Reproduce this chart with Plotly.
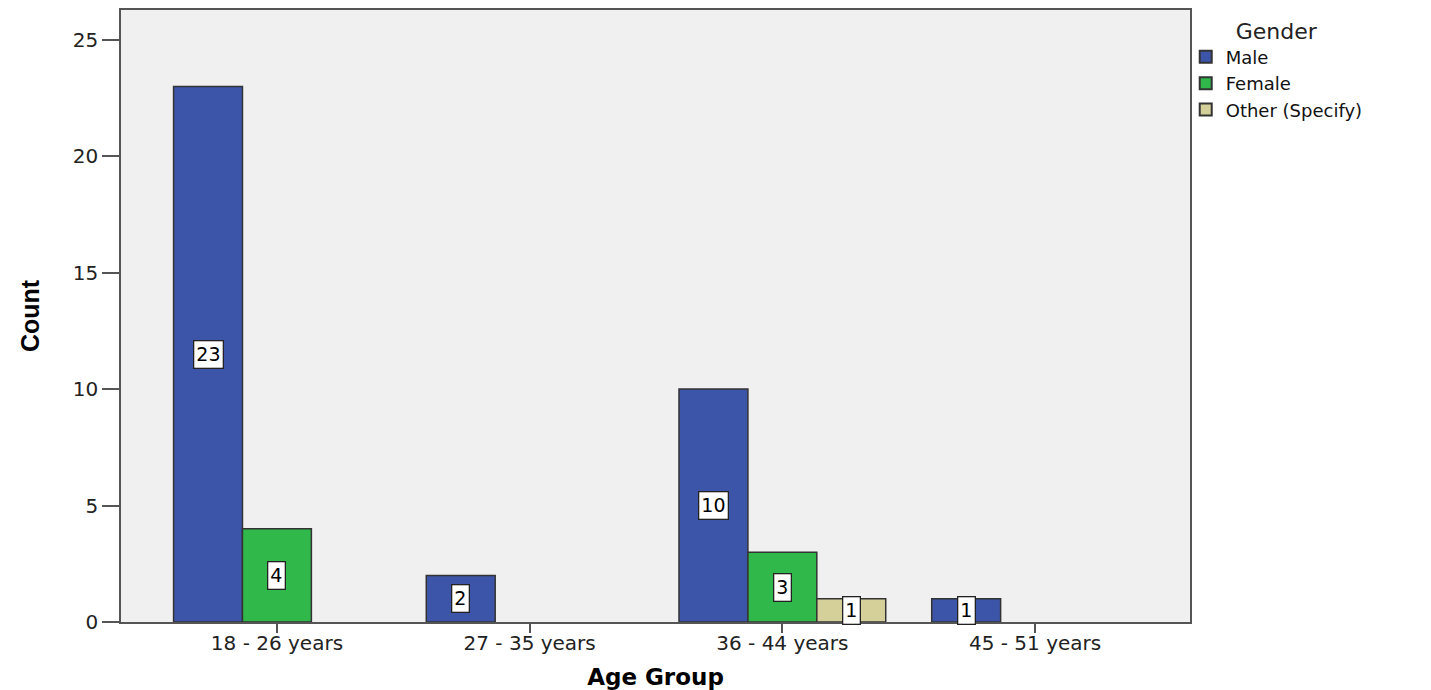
import plotly.graph_objects as go

categories = ["18 - 26 years", "27 - 35 years", "36 - 44 years", "45 - 51 years"]
male = [23, 2, 10, 1]
female = [4, None, 3, None]
other = [None, None, 1, None]
series_names = ["Male", "Female", "Other (Specify)"]
colors = ["#3d55a8", "#30b84a", "#d5d09a"]
y_ticks = [0, 5, 10, 15, 20, 25]

FONT = "DejaVu Sans, Liberation Sans, Arial"

series = [male, female, other]
fig = go.Figure()
for name, vals, col in zip(series_names, series, colors):
    fig.add_trace(go.Bar(
        x=categories, y=vals, name=name,
        marker=dict(color=col, line=dict(color="#333333", width=1.5)),
        hoverinfo="x+y+name",
    ))

bargap = 0.182
n = len(series)
bw = (1 - bargap) / n
for si, vals in enumerate(series):
    off = (si - (n - 1) / 2) * bw
    for ci, v in enumerate(vals):
        if v is None:
            continue
        fig.add_annotation(
            x=ci + off, y=v / 2, xref="x", yref="y",
            text=str(v), showarrow=False,
            font=dict(family=FONT, size=19, color="black"),
            bgcolor="white", bordercolor="#222222", borderwidth=1.3, borderpad=2,
        )

fig.update_layout(
    width=1423, height=682,
    barmode="group", bargap=bargap, bargroupgap=0,
    paper_bgcolor="white", plot_bgcolor="#f0f0f0",
    margin=dict(l=113, r=241, t=0, b=68),
    font=dict(family=FONT, size=18, color="#222222"),
    legend=dict(
        x=0.996, y=1.0, xanchor="left", yanchor="top",
        title=dict(text="Gender", side="top center", font=dict(size=22, color="#222222")),
        font=dict(size=18, color="#111111"),
        itemsizing="constant", tracegroupgap=0,
        bgcolor="rgba(0,0,0,0)",
    ),
    showlegend=True,
)
fig.update_xaxes(
    type="category", range=[-0.617, 3.613],
    showgrid=False, showline=True, linecolor="#555555", linewidth=1.5, mirror=True,
    ticks="outside", ticklen=9, tickcolor="#555555", tickwidth=2,
    ticklabelstandoff=-7,
    tickfont=dict(family=FONT, size=20, color="#222222"),
    title=dict(text="<b>Age Group</b>",
               font=dict(family=FONT, size=23, color="black"), standoff=15),
    zeroline=False,
)
fig.update_yaxes(
    range=[0, 26.28], tickvals=y_ticks,
    showgrid=False, showline=True, linecolor="#555555", linewidth=1.5, mirror=True,
    ticks="outside", ticklen=17, tickcolor="#555555", tickwidth=1.5,
    tickfont=dict(family=FONT, size=20, color="#222222"),
    title=dict(text="<b>Count</b>",
               font=dict(family="Liberation Sans Narrow, Liberation Sans, Arial", size=25, color="black"),
               standoff=26),
    zeroline=False,
)
fig.write_html("out.html")
